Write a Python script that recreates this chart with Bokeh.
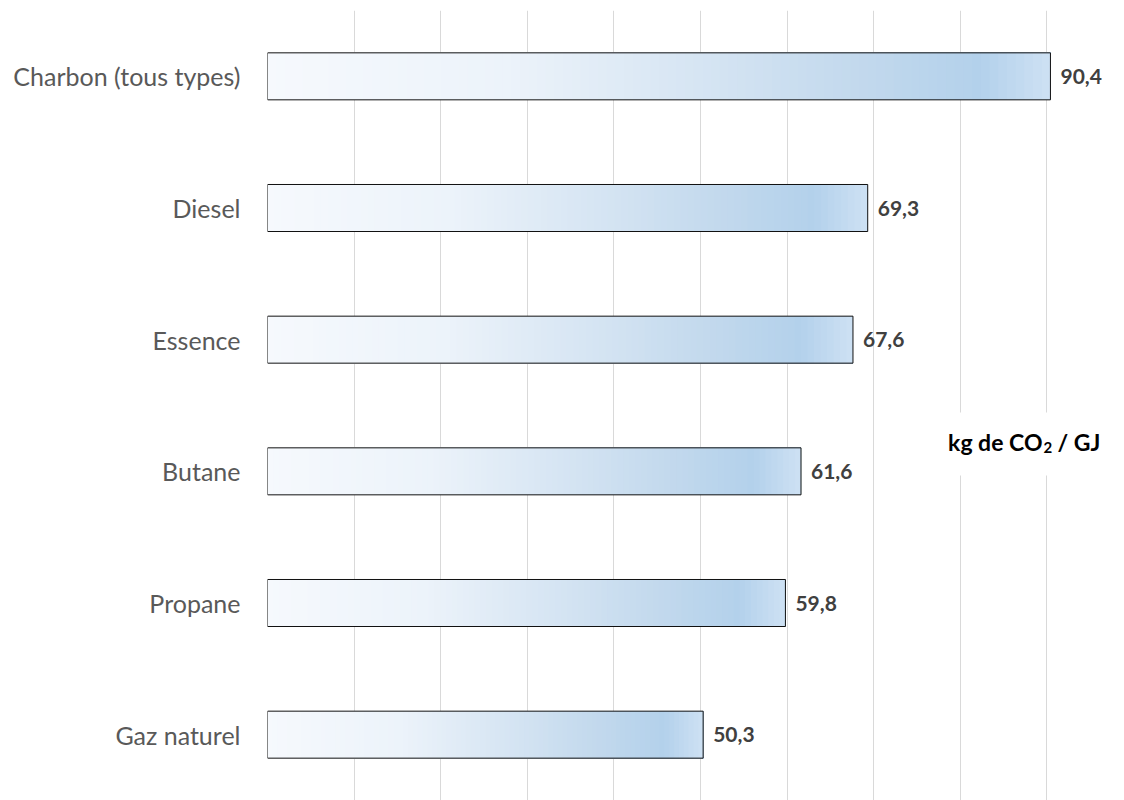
from bokeh.plotting import figure
from bokeh.models import Range1d, FixedTicker, ColumnDataSource, Label, BoxAnnotation
from bokeh.core.properties import value
from bokeh.embed import file_html
from bokeh.resources import INLINE

# ---- data ----
categories = ["Charbon (tous types)", "Diesel", "Essence", "Butane", "Propane", "Gaz naturel"]
values = [90.4, 69.3, 67.6, 61.6, 59.8, 50.3]
value_labels = [f"{v:.1f}".replace(".", ",") for v in values]
grid_ticks = list(range(0, 100, 10))
unit_text = ("kg de CO", "2", "/ GJ")

FONT = "Lato"
n = len(categories)
ypos = [n - 1 - i for i in range(n)]  # first category at top

p = figure(width=1124, height=800, output_backend="svg", toolbar_location=None,
           x_range=Range1d(0, 98.95), y_range=Range1d(-0.5, n - 0.5),
           min_border_left=267, min_border_right=0, min_border_top=10, min_border_bottom=0)
p.outline_line_color = None
p.background_fill_color = "white"
p.border_fill_color = "white"

# grid
p.xaxis.visible = False
p.xgrid[0].ticker = FixedTicker(ticks=grid_ticks)
p.xgrid.grid_line_color = "#d9d9d9"
p.xgrid.grid_line_width = 1
p.ygrid.visible = False

# y axis with category labels
p.yaxis.ticker = FixedTicker(ticks=ypos)
p.yaxis.major_label_overrides = {y: c for y, c in zip(ypos, categories)}
p.yaxis.axis_line_color = None
p.yaxis.major_tick_line_color = None
p.yaxis.minor_tick_line_color = None
p.yaxis.major_tick_out = 0
p.yaxis.major_tick_in = 0
p.yaxis.major_label_standoff = 27
p.yaxis.major_label_text_font = FONT
p.yaxis.major_label_text_font_size = "25px"
p.yaxis.major_label_text_color = "#595959"

# gradient bars (slices from left to the bar end, drawn left to right)
stops = [(0.0, (246, 249, 253)), (0.3, (236, 243, 250)), (0.55, (214, 229, 243)),
         (0.75, (195, 217, 237)), (0.91, (179, 209, 235)), (1.0, (206, 225, 243))]

def color_at(t):
    for (t0, c0), (t1, c1) in zip(stops[:-1], stops[1:]):
        if t0 <= t <= t1:
            f = (t - t0) / (t1 - t0) if t1 > t0 else 0
            return "#%02x%02x%02x" % tuple(int(round(a + (b - a) * f)) for a, b in zip(c0, c1))
    return "#%02x%02x%02x" % stops[-1][1]

N = 90
sl_y, sl_l, sl_r, sl_c = [], [], [], []
for v, y in zip(values, ypos):
    for k in range(N):
        sl_y.append(y)
        sl_l.append(v * k / N)
        sl_r.append(v)
        sl_c.append(color_at((k + 0.5) / N))
BAR_H = 0.357
p.hbar(y=sl_y, left=sl_l, right=sl_r, height=BAR_H, fill_color=sl_c, line_color=None)

# outline
p.hbar(y=ypos, left=0, right=values, height=BAR_H, fill_alpha=0,
       line_color="#111111", line_width=1)

# value labels
src = ColumnDataSource(dict(x=values, y=ypos, t=value_labels))
p.text(x="x", y="y", text="t", source=src, x_offset=10, text_baseline="middle",
       text_align="left", text_font=value(FONT), text_font_style="bold",
       text_font_size="21px", text_color="#404040")

# unit label with white background
p.add_layout(BoxAnnotation(left=78.0, right=97.5, bottom=1.968, top=2.447,
                           fill_color="white", fill_alpha=1, line_color=None, level="glyph"))
p.add_layout(Label(x=89.48, y=2.22, text=unit_text[0], text_align="right",
                   text_baseline="alphabetic", text_font=FONT, text_font_style="bold",
                   text_font_size="23px", text_color="black", level="annotation"))
p.add_layout(Label(x=89.6, y=2.18, text=unit_text[1], text_align="left",
                   text_baseline="alphabetic", text_font=FONT, text_font_style="bold",
                   text_font_size="15px", text_color="black", level="annotation"))
p.add_layout(Label(x=91.2, y=2.22, text=unit_text[2], text_align="left",
                   text_baseline="alphabetic", text_font=FONT, text_font_style="bold",
                   text_font_size="23px", text_color="black", level="annotation"))

open("out.html", "w").write(file_html(p, INLINE))
